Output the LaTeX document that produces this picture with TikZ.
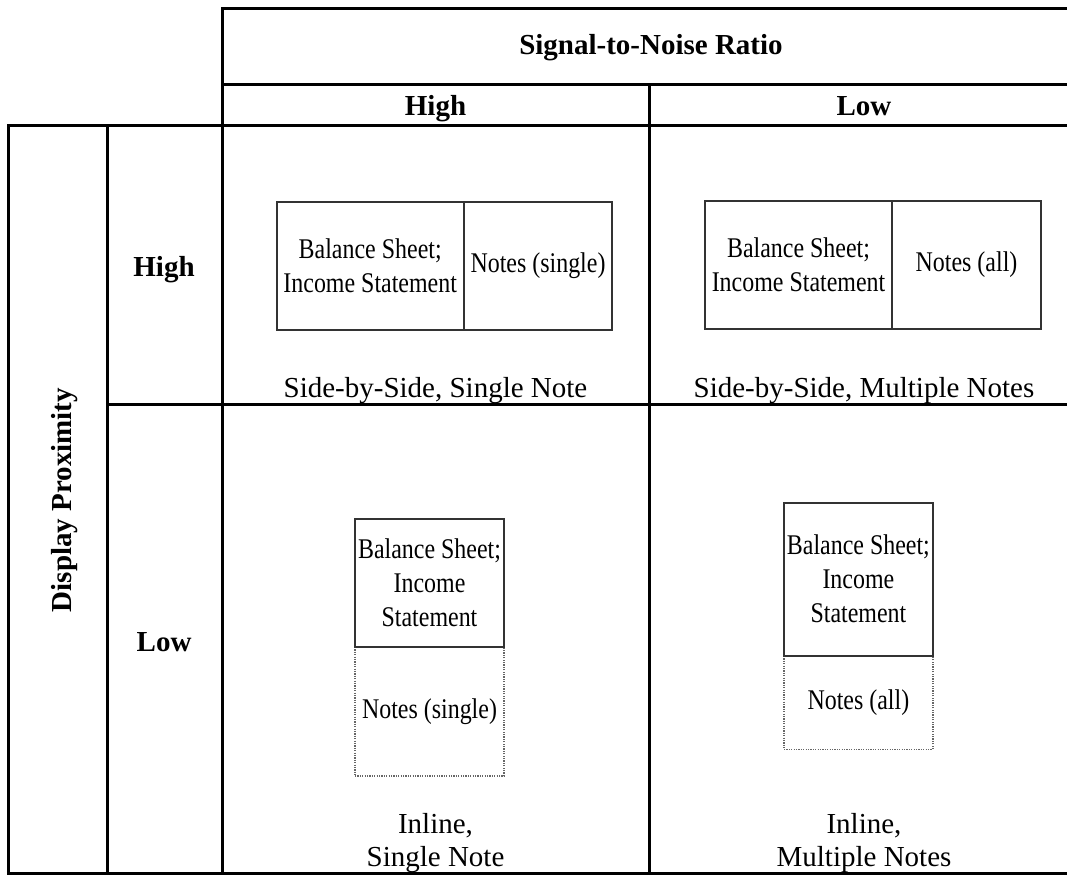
\documentclass[tikz,border=0pt]{standalone}
\usepackage{fontspec}
\setmainfont{Liberation Serif}
\newfontfamily\boxfont[FakeStretch=0.84]{Liberation Serif}
\begin{document}
\begin{tikzpicture}[x=1pt,y=-1pt,
  gridline/.style={line width=3pt, black},
  hdr/.style={font=\fontsize{29}{33}\selectfont\bfseries, inner sep=0pt},
  captxt/.style={font=\fontsize{29}{33}\selectfont, inner sep=0pt, anchor=base},
  sbox/.style={draw=black!80, line width=2pt, fill=white, align=center, inner sep=0pt,
    font=\boxfont\fontsize{28.5}{34}\selectfont},
  dbox/.style={draw=black!60, line width=1.6pt, dash pattern=on 1.2pt off 1.2pt, align=center, inner sep=0pt,
    font=\boxfont\fontsize{28.5}{34}\selectfont}]
\useasboundingbox (0,0) rectangle (1067,875);
% table grid
\draw[gridline] (1070,9) -- (222,9) -- (222,873);
\draw[gridline] (222,84) -- (1070,84);
\draw[gridline] (1070,125) -- (8,125) -- (8,873) -- (1070,873);
\draw[gridline] (107,125) -- (107,873);
\draw[gridline] (649,84) -- (649,873);
\draw[gridline] (107,404) -- (1070,404);
% headers
\node[hdr, anchor=base] (snr) at (651,55) {Signal-to-Noise Ratio};
\node[hdr, anchor=base] (colhigh) at (435.5,115) {High};
\node[hdr, anchor=base] (collow) at (864,115) {Low};
\node[hdr, anchor=base] (rowhigh) at (164,276) {High};
\node[hdr, anchor=base west] (rowlow) at (136.5,651) {Low};
\node[hdr, rotate=90, anchor=base] (dp) at (71,500) {Display Proximity};
% high/high
\node[sbox, minimum width=187pt, minimum height=128pt] (bs1) at (370.2,266) {Balance Sheet;\\Income Statement};
\node[sbox, minimum width=148.6pt, minimum height=128pt] (ns1) at (538,266) {Notes (single)};
\node[captxt] (c1) at (435.5,397.5) {Side-by-Side, Single Note};
% high/low
\node[sbox, minimum width=187pt, minimum height=128pt] (bs2) at (798.5,265) {Balance Sheet;\\Income Statement};
\node[sbox, minimum width=149pt, minimum height=128pt] (na2) at (966.5,265) {Notes (all)};
\node[captxt] (c2) at (864,397.5) {Side-by-Side, Multiple Notes};
% low/high
\node[dbox, minimum width=149pt, minimum height=129pt] (nd3) at (429.5,711.2) {Notes (single)};
\node[sbox, minimum width=149pt, minimum height=127.4pt] (bs3) at (429.5,583) {Balance Sheet;\\Income\\Statement};
\node[captxt] (c3a) at (435.5,833.5) {Inline,};
\node[captxt] (c3b) at (435.5,866) {Single Note};
% low/low
\node[dbox, minimum width=148.7pt, minimum height=93.6pt] (nd4) at (858.4,702.5) {Notes (all)};
\node[sbox, minimum width=148.7pt, minimum height=153pt] (bs4) at (858.4,579.2) {Balance Sheet;\\Income\\Statement};
\node[captxt] (c4a) at (864,833.5) {Inline,};
\node[captxt] (c4b) at (864,866) {Multiple Notes};
\end{tikzpicture}
\end{document}
